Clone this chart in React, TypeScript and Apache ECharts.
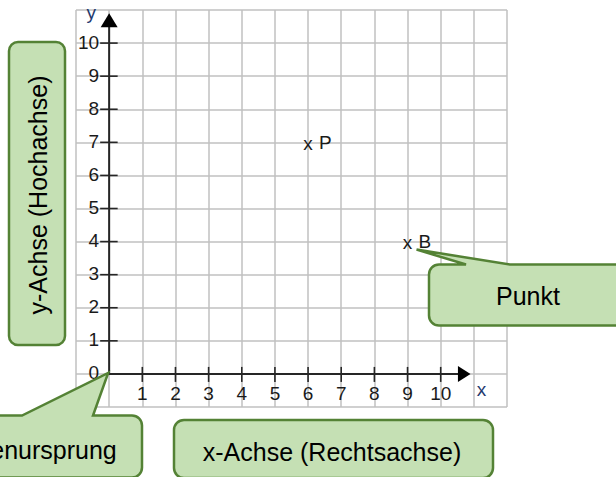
import React, { useEffect, useRef } from "react";
import * as echarts from "echarts";

// ---- data ----
const X_MIN = -1;
const X_MAX = 12;
const Y_MIN = -1;
const Y_MAX = 11;
const X_TICKS = [1, 2, 3, 4, 5, 6, 7, 8, 9, 10];
const Y_TICKS = [1, 2, 3, 4, 5, 6, 7, 8, 9, 10];
const Y_LABELS = [0, 1, 2, 3, 4, 5, 6, 7, 8, 9, 10];
const AXIS_END = [10.9, 10.9];
const ARROW_BASE = [10.52, 10.48];
const AXIS_NAMES = ["x", "y"];
const POINT_NAMES = ["P", "B"];
const POINT_X = [6, 9];
const POINT_Y = [7, 4];
const CALLOUT_TEXTS = [
  "y-Achse (Hochachse)",
  "Punkt",
  "Koordinatenursprung",
  "x-Achse (Rechtsachse)",
];

// ---- styles ----
const FONT = '"Liberation Sans", Arial, sans-serif';
const AXIS_COLOR = "#262626";
const LABEL_COLOR = "#1a1a1a";
const NAME_COLOR = "#1f3a6e";
const GRID_COLOR = "#c0c0c0";
const CALLOUT_FILL = "#c5e0b4";
const CALLOUT_STROKE = "#548235";

function calloutPath(
  x: number,
  y: number,
  w: number,
  h: number,
  r: number,
  ptr?: { b1: number; b2: number; tx: number; ty: number }
) {
  let d = `M${x + r},${y} `;
  if (ptr) d += `L${ptr.b1},${y} L${ptr.tx},${ptr.ty} L${ptr.b2},${y} `;
  d += `L${x + w - r},${y} A${r},${r} 0 0 1 ${x + w},${y + r} `;
  d += `L${x + w},${y + h - r} A${r},${r} 0 0 1 ${x + w - r},${y + h} `;
  d += `L${x + r},${y + h} A${r},${r} 0 0 1 ${x},${y + h - r} `;
  d += `L${x},${y + r} A${r},${r} 0 0 1 ${x + r},${y} Z`;
  return d;
}

export default function App() {
  const ref = useRef<HTMLDivElement>(null);
  useEffect(() => {
    const chart = echarts.init(ref.current!, null, { renderer: "svg" });

    const axesSeries = {
      type: "custom",
      silent: true,
      clip: false,
      z: 3,
      data: [[0, 0]],
      renderItem: (_p: any, api: any) => {
        const o = api.coord([0, 0]);
        const xe = api.coord([AXIS_END[0], 0]);
        const xb = api.coord([ARROW_BASE[0], 0]);
        const ye = api.coord([0, AXIS_END[1]]);
        const yb = api.coord([0, ARROW_BASE[1]]);
        const children: any[] = [];
        children.push({
          type: "line",
          shape: { x1: o[0], y1: o[1], x2: xb[0] + 1, y2: o[1] },
          style: { stroke: AXIS_COLOR, lineWidth: 2 },
        });
        children.push({
          type: "line",
          shape: { x1: o[0], y1: o[1] + 1, x2: o[0], y2: yb[1] - 1 },
          style: { stroke: AXIS_COLOR, lineWidth: 2 },
        });
        children.push({
          type: "polygon",
          shape: { points: [[xe[0], xe[1]], [xb[0], xb[1] - 8], [xb[0], xb[1] + 8]] },
          style: { fill: "#000" },
        });
        children.push({
          type: "polygon",
          shape: { points: [[ye[0], ye[1]], [yb[0] - 8.5, yb[1]], [yb[0] + 8.5, yb[1]]] },
          style: { fill: "#000" },
        });
        X_TICKS.forEach((v) => {
          const p = api.coord([v, 0]);
          children.push({
            type: "line",
            shape: { x1: p[0], y1: p[1] - 7, x2: p[0], y2: p[1] + 8 },
            style: { stroke: AXIS_COLOR, lineWidth: 1.6 },
          });
          children.push({
            type: "text",
            x: p[0],
            y: p[1] + 20,
            style: {
              text: String(v),
              font: `19px ${FONT}`,
              fill: LABEL_COLOR,
              align: "center",
              verticalAlign: "middle",
            },
          });
        });
        Y_TICKS.forEach((v) => {
          const p = api.coord([0, v]);
          children.push({
            type: "line",
            shape: { x1: p[0] - 9, y1: p[1], x2: p[0] + 8.5, y2: p[1] },
            style: { stroke: AXIS_COLOR, lineWidth: 1.6 },
          });
        });
        Y_LABELS.forEach((v) => {
          const p = api.coord([0, v]);
          children.push({
            type: "text",
            x: p[0] - 10,
            y: p[1] - 1,
            style: {
              text: String(v),
              font: `19px ${FONT}`,
              fill: LABEL_COLOR,
              align: "right",
              verticalAlign: "middle",
            },
          });
        });
        const xn = api.coord([AXIS_END[0], 0]);
        children.push({
          type: "text",
          x: xn[0] + 11,
          y: xn[1] + 16,
          style: {
            text: AXIS_NAMES[0],
            font: `19px ${FONT}`,
            fill: NAME_COLOR,
            align: "center",
            verticalAlign: "middle",
          },
        });
        const yn = api.coord([0, Y_MAX]);
        children.push({
          type: "text",
          x: yn[0] - 18,
          y: yn[1] + 2,
          style: {
            text: AXIS_NAMES[1],
            font: `19px ${FONT}`,
            fill: NAME_COLOR,
            align: "center",
            verticalAlign: "middle",
          },
        });
        return { type: "group", children };
      },
    };

    const pointSeries = {
      type: "custom",
      silent: true,
      clip: false,
      z: 4,
      data: POINT_X.map((x, i) => [x, POINT_Y[i]]),
      renderItem: (params: any, api: any) => {
        const p = api.coord([api.value(0), api.value(1)]);
        return {
          type: "group",
          children: [
            {
              type: "text",
              x: p[0],
              y: p[1] + 1,
              style: {
                text: "x",
                font: `19px ${FONT}`,
                fill: LABEL_COLOR,
                align: "center",
                verticalAlign: "middle",
              },
            },
            {
              type: "text",
              x: p[0] + 11,
              y: p[1],
              style: {
                text: POINT_NAMES[params.dataIndex],
                font: `19px ${FONT}`,
                fill: LABEL_COLOR,
                align: "left",
                verticalAlign: "middle",
              },
            },
          ],
        };
      },
    };

    const calloutSeries = {
      type: "custom",
      silent: true,
      clip: false,
      z: 10,
      data: [[0, 0]],
      renderItem: (_p: any, api: any) => {
        const o = api.coord([0, 0]);
        const b = api.coord([POINT_X[1], POINT_Y[1]]);
        const boxStyle = { fill: CALLOUT_FILL, stroke: CALLOUT_STROKE, lineWidth: 2.5 };
        const txt = (text: string, x: number, y: number, rotation = 0) => ({
          type: "text",
          x,
          y,
          rotation,
          style: {
            text,
            font: `25px ${FONT}`,
            fill: "#000",
            align: "center",
            verticalAlign: "middle",
          },
        });
        return {
          type: "group",
          children: [
            { type: "path", shape: { pathData: calloutPath(9, 42, 56, 303, 9) }, style: boxStyle },
            txt(CALLOUT_TEXTS[0], 38, 195, Math.PI / 2),
            {
              type: "path",
              shape: {
                pathData: calloutPath(429, 264.5, 200, 61, 10, {
                  b1: 466,
                  b2: 510,
                  tx: b[0] + 9,
                  ty: b[1] + 8,
                }),
              },
              style: boxStyle,
            },
            txt(CALLOUT_TEXTS[1], 528, 296),
            {
              type: "path",
              shape: {
                pathData: calloutPath(-140, 415.5, 282, 62, 10, {
                  b1: 22,
                  b2: 93,
                  tx: o[0] - 1,
                  ty: o[1] - 1,
                }),
              },
              style: boxStyle,
            },
            txt(CALLOUT_TEXTS[2], 0, 450),
            { type: "path", shape: { pathData: calloutPath(174, 420, 319, 58, 10) }, style: boxStyle },
            txt(CALLOUT_TEXTS[3], 332, 452),
          ],
        };
      },
    };

    chart.setOption({
      animation: false,
      grid: { left: 76, top: 10, width: 431, height: 397 },
      xAxis: {
        type: "value",
        min: X_MIN,
        max: X_MAX,
        interval: 1,
        axisLine: { show: false },
        axisTick: { show: false },
        axisLabel: { show: false },
        splitLine: { show: true, lineStyle: { color: GRID_COLOR, width: 1.5 } },
      },
      yAxis: {
        type: "value",
        min: Y_MIN,
        max: Y_MAX,
        interval: 1,
        axisLine: { show: false },
        axisTick: { show: false },
        axisLabel: { show: false },
        splitLine: { show: true, lineStyle: { color: GRID_COLOR, width: 1.5 } },
      },
      series: [axesSeries, pointSeries, calloutSeries],
    });
    return () => chart.dispose();
  }, []);
  return (
    <div
      ref={ref}
      style={{ position: "fixed", left: 0, top: 0, width: 616, height: 477, background: "#fff" }}
    />
  );
}
